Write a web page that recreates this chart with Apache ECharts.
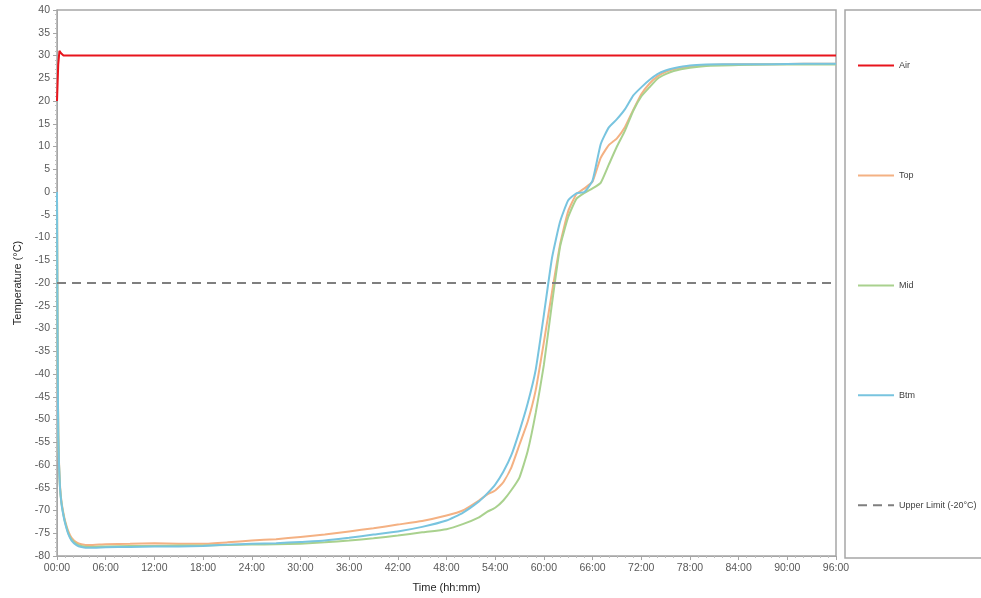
<!DOCTYPE html>
<html>
<head>
<meta charset="utf-8">
<script src="https://cdn.jsdelivr.net/npm/echarts@6/dist/echarts.min.js"></script>
<style>html,body{margin:0;padding:0;background:#fff}#c{width:981px;height:598px}</style>
</head>
<body>
<div id="c"></div>
<script>
// ---- data (hours since start, temperature °C) ----
const hours = [0, 0.05, 0.1, 0.16, 0.25, 0.37, 0.55, 0.78, 1, 1.4, 1.8, 2.4, 3, 4, 6, 9, 12, 15, 18, 21, 24, 27, 30, 33, 36, 39, 42, 45, 48, 50, 52, 53, 54, 55, 56, 57, 58, 59, 60, 61, 62, 63, 64, 65, 66, 67, 68, 69, 70, 71, 72, 73, 74, 75, 76, 78, 80, 84, 88, 92, 96];
const btm = [0, -25, -42, -54, -60, -65, -68.5, -71, -72.8, -75.2, -76.6, -77.6, -78, -78.2, -78.1, -78, -77.9, -77.9, -77.8, -77.5, -77.3, -77.2, -76.9, -76.6, -76, -75.3, -74.6, -73.6, -72.2, -70.5, -68, -66.3, -64.3, -61.5, -57.8, -52.5, -46.5, -39, -27, -14.5, -6.5, -1.8, -0.3, 0, 2.5, 10.5, 14.2, 16, 18.2, 21.2, 23, 24.6, 25.9, 26.7, 27.2, 27.8, 28, 28.1, 28.1, 28.2, 28.2];
const top_ = [0, -24, -41, -53, -59.5, -64.5, -68, -70.5, -72.3, -74.6, -76, -77, -77.4, -77.6, -77.4, -77.3, -77.2, -77.3, -77.3, -77, -76.6, -76.3, -75.8, -75.3, -74.6, -73.9, -73.1, -72.3, -71.1, -70, -67.8, -66.5, -65.6, -63.8, -60.5, -55.5, -50.5, -43.5, -33, -22, -11.5, -4.2, -0.5, 0.8, 2.3, 7.5, 10.3, 11.8, 14.3, 18, 21.5, 23.8, 25.4, 26.4, 27, 27.6, 27.9, 28.1, 28.1, 28.2, 28.2];
const mid = [0, -24.5, -41.5, -53.5, -60, -65, -68.3, -70.8, -72.6, -75, -76.4, -77.4, -77.8, -78, -77.9, -77.8, -77.8, -77.7, -77.7, -77.6, -77.5, -77.4, -77.3, -77, -76.6, -76.1, -75.5, -74.8, -74.1, -73, -71.5, -70.3, -69.4, -67.8, -65.5, -62.7, -57, -48.5, -38, -24.5, -12, -5.5, -1.5, -0.2, 0.8, 2, 6, 10, 13.5, 17.8, 21, 23, 24.9, 25.9, 26.6, 27.3, 27.7, 27.9, 28, 28, 28];
const airHours = [0, 0.15, 0.3, 0.5, 0.8, 96];
const air = [20, 28, 31, 30.5, 30, 30];
const limitHours = [0, 96];
const limit = [-20, -20];
const seriesNames = ['Air', 'Top', 'Mid', 'Btm', 'Upper Limit (-20°C)'];

const pairs = (xs, ys) => xs.map((x, i) => [x, ys[i]]);
const font = 'Liberation Sans, Arial, sans-serif';

const chart = echarts.init(document.getElementById('c'), null, {renderer: 'canvas'});
chart.setOption({
  animation: false,
  backgroundColor: '#ffffff',
  grid: {left: 57, right: 145, top: 10, bottom: 39, show: true, borderColor: '#a6a6a6', borderWidth: 1.5, backgroundColor: 'transparent'},
  graphic: [{type: 'rect', shape: {x: 845, y: 10, width: 150, height: 548}, style: {fill: 'none', stroke: '#a6a6a6', lineWidth: 1.5}, silent: true}],
  legend: {
    orient: 'vertical', left: 852, top: 55, itemWidth: 36, itemHeight: 14, itemGap: 98.7,
    icon: 'inherit',
    itemStyle: {opacity: 0},
    textStyle: {fontFamily: font, fontSize: 9, color: '#404040'},
    data: seriesNames
  },
  xAxis: {
    type: 'value', min: 0, max: 96, interval: 6,
    name: 'Time (hh:mm)', nameLocation: 'middle', nameGap: 26,
    nameTextStyle: {fontFamily: font, fontSize: 11, color: '#262626'},
    axisLine: {show: true, onZero: false, lineStyle: {color: '#a6a6a6', width: 1}},
    axisTick: {show: true, length: 4, lineStyle: {color: '#a6a6a6'}},
    minorTick: {show: true, splitNumber: 6, length: 2, lineStyle: {color: '#bfbfbf'}},
    splitLine: {show: false},
    axisLabel: {fontFamily: font, fontSize: 10.5, color: '#595959', margin: 7,
      formatter: v => String(v).padStart(2, '0') + ':00'}
  },
  yAxis: {
    type: 'value', min: -80, max: 40, interval: 5,
    name: 'Temperature (°C)', nameLocation: 'middle', nameGap: 31, nameRotate: 90,
    nameTextStyle: {fontFamily: font, fontSize: 11, color: '#262626'},
    axisLine: {show: true, onZero: false, lineStyle: {color: '#a6a6a6', width: 1}},
    axisTick: {show: true, length: 4, lineStyle: {color: '#a6a6a6'}},
    minorTick: {show: true, splitNumber: 5, length: 2, lineStyle: {color: '#bfbfbf'}},
    splitLine: {show: false},
    axisLabel: {fontFamily: font, fontSize: 10.5, color: '#595959', margin: 7}
  },
  series: [
    {name: 'Top', type: 'line', data: pairs(hours, top_), showSymbol: false, symbol: 'none', smooth: 0.15, color: '#f4b183', lineStyle: {width: 2, color: '#f4b183'}, z: 2},
    {name: 'Mid', type: 'line', data: pairs(hours, mid), showSymbol: false, symbol: 'none', smooth: 0.15, color: '#a9d18e', lineStyle: {width: 2, color: '#a9d18e'}, z: 2},
    {name: 'Btm', type: 'line', data: pairs(hours, btm), showSymbol: false, symbol: 'none', smooth: 0.15, color: '#78c4df', lineStyle: {width: 2, color: '#78c4df'}, z: 3},
    {name: 'Air', type: 'line', data: pairs(airHours, air), showSymbol: false, symbol: 'none', color: '#e8141c', lineStyle: {width: 2, color: '#e8141c'}, z: 4},
    {name: 'Upper Limit (-20°C)', type: 'line', data: pairs(limitHours, limit), showSymbol: false, symbol: 'none', color: '#7f7f7f', lineStyle: {width: 2, color: '#7f7f7f', type: [9, 6]}, z: 4}
  ]
});
</script>
</body>
</html>
